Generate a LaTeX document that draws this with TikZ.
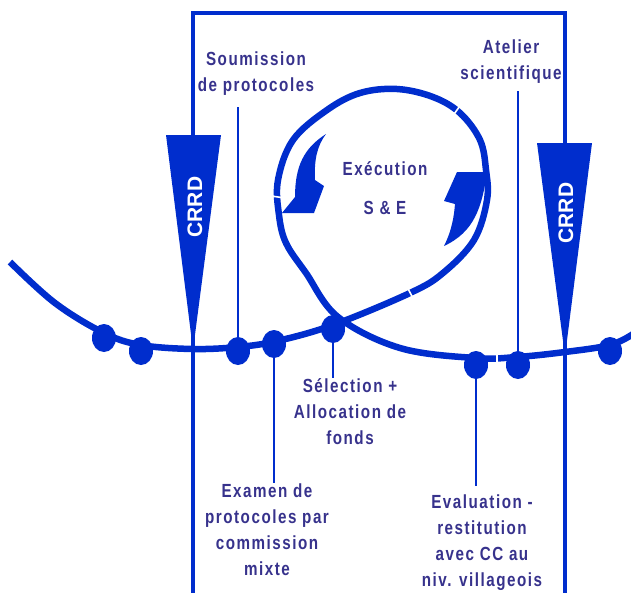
\documentclass[tikz,border=0pt]{standalone}
\usepackage{fontspec}
\setmainfont{Liberation Sans}[FakeStretch=0.8,LetterSpace=8]
\newfontfamily\crrdfont{Liberation Sans}
\usetikzlibrary{shapes.geometric}
\definecolor{crblue}{RGB}{0,45,205}
\definecolor{txtblue}{RGB}{55,50,140}

\begin{document}
\begin{tikzpicture}[x=1pt,y=-1pt,
  lbl/.style={align=center,text=txtblue,font=\fontsize{19}{26}\selectfont\bfseries,inner sep=1pt},
  dot/.style={ellipse,fill=crblue,minimum width=24pt,minimum height=28pt,inner sep=0pt},
  ptr/.style={crblue,line width=1.3pt},
  curve/.style={crblue,line width=6.5pt},
  notch/.style={white,line width=1.6pt},
  frame/.style={crblue,line width=4pt,line join=miter},
  crrd/.style={text=white,rotate=90,font=\crrdfont\fontsize{21}{21}\selectfont\bfseries}]

\useasboundingbox (0,0) rectangle (631,592);

% frame
\draw[frame] (193,600) -- (193,13) -- (565,13) -- (565,600);

% cycle with loop
\draw[curve] plot[smooth,tension=0.6] coordinates {
  (10,262) (55,303) (104,333) (141,345) (193,349) (238,347) (277,341)
  (333,325) (410,293) (443,273) (474,240) (487,200) (486,170) (480,140)
  (460,113) (433,97) (397,89) (360,93) (327,110) (293,140) (278,180)
  (279,215) (286,243) (306,273) (338,317) (400,348) (475,358) (517,357)
  (565,352) (610,345) (633,334)};
\draw[notch] (406,285) -- (414,300);
\draw[notch] (497,354) -- (497,369);
\draw[notch] (271,196) -- (285,198);
\draw[notch] (452,117) -- (462,103);

% CRRD
\fill[crblue] (166,135) -- (221,135) -- (193,350) -- cycle;
\node[crrd] (crrdl) at (195,207) {CRRD};
\fill[crblue] (537,143) -- (592,143) -- (565,356) -- cycle;
\node[crrd] (crrdr) at (566,213) {CRRD};

% steps
\node[dot] (d1) at (104,338) {};
\node[dot] (d2) at (141,351) {};
\node[dot] (d3) at (238,351) {};
\node[dot] (d4) at (274,344) {};
\node[dot] (d5) at (333,329) {};
\node[dot] (d6) at (476,365) {};
\node[dot] (d7) at (518,365) {};
\node[dot] (d8) at (610,351) {};

% arrows
\fill[crblue] (326,134) .. controls (304,148) and (295,166) .. (295,197) -- (282,213) -- (314,213) -- (324,186) -- (315,180) .. controls (314,160) and (317,146) .. (326,134) -- cycle;
\fill[crblue] (457,172) -- (487,172) .. controls (482,208) and (474,232) .. (444,246) .. controls (452,230) and (454,216) .. (455,204) -- (444,201) -- cycle;

% labels
\node[lbl] (soum) at (256,74) {Soumission\\de protocoles};
\node[lbl] (atel) at (511,62) {Atelier\\scientifique};
\node[lbl] (exec) at (385,188) {Exécution\\[13pt]S \& E};
\node[lbl] (selec) at (350,412) {Sélection +\\Allocation de\\fonds};
\node[lbl] (exam) at (267,530) {Examen de\\protocoles par\\commission\\mixte};
\node[lbl] (eval) at (482,543) {Evaluation -\\restitution\\avec CC au\\niv. villageois};

% pointers
\draw[ptr,shorten >=10pt] (d3.north) -- (d3 |- soum.south);
\draw[ptr,shorten >=6pt] (d7.north) -- (d7 |- atel.south);
\draw[ptr] (d5.south) -- (d5 |- selec.north);
\draw[ptr] (d4.south) -- (d4 |- exam.north);
\draw[ptr,shorten >=8pt] (d6.south) -- (d6 |- eval.north);

\end{tikzpicture}
\end{document}
